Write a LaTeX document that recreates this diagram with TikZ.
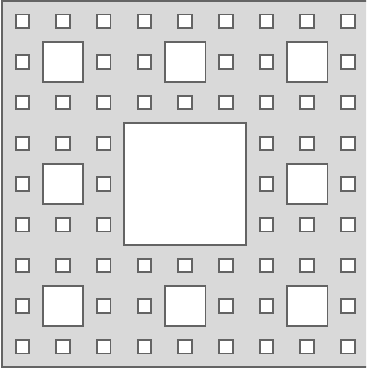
\documentclass[tikz,border=0pt]{standalone}
\usepackage{tikz}
\usetikzlibrary{calc}
\usepackage{xcolor}
\definecolor{cgray}{RGB}{217,217,217}
\definecolor{cedge}{RGB}{100,100,100}

\begin{document}
\begin{tikzpicture}[x=0.5cm,y=0.5cm,
  carpet/.style={fill=cgray,draw=cedge,line width=1.6pt},
  hole/.style={fill=white,draw=cedge,line width=2pt}
]
\useasboundingbox (-0.15,-0.14) rectangle (26.84,27.07);
\clip (-0.15,-0.14) rectangle (26.84,27.07);
\draw[carpet] (0,0) rectangle (27,27);
% smallest holes
\foreach \i in {0,...,8}{
  \foreach \j in {0,...,8}{
    \draw[hole] ({3*\i+1},{3*\j+1}) rectangle ++(1,1);
  }
}
% middle holes
\foreach \i in {0,1,2}{
  \foreach \j in {0,1,2}{
    \draw[hole] ({9*\i+3},{9*\j+3}) rectangle ++(3,3);
  }
}
% big hole
\draw[hole] (9,9) rectangle (18,18);
\end{tikzpicture}
\end{document}
